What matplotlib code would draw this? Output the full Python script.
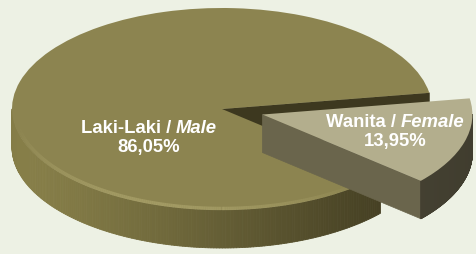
import numpy as np
import matplotlib
matplotlib.use('Agg')
import matplotlib.pyplot as plt
from matplotlib.collections import PolyCollection, LineCollection
from matplotlib.patches import Polygon
from matplotlib.offsetbox import TextArea, HPacker, VPacker, AnnotationBbox

# ---- data ----
labels_id = ['Wanita /', 'Laki-Laki /']
labels_en = ['Female', 'Male']
shares = [13.95, 86.05]
share_text = ['13,95%', '86,05%']
explode = [0.2, 0.0]
top_colors = ['#B3AE8D', '#8C8450']

# ---- style / layout ----
BG = '#EDF1E4'
W, H = 477, 254
CX, RX, CY, RY = 222, 210, 109, 101   # pixel centre & radii of the tilted pie
DEPTH = 38 / RY
START = -41

fig = plt.figure(figsize=(W / 100, H / 100), dpi=100, facecolor=BG)
ax = fig.add_axes([0, 0, 1, 1])
ax.set_facecolor(BG)

wedges, _ = ax.pie(shares, explode=explode, colors=top_colors, startangle=START,
                   counterclock=True, radius=1.0, wedgeprops=dict(linewidth=0))
ax.set_aspect('auto')
ax.set_xlim(-CX / RX, (W - CX) / RX)
ax.set_ylim((CY - H) / RY, CY / RY)
ax.axis('off')

light_m = np.array([134, 126, 72]) / 255
dark_m = np.array([60, 55, 30]) / 255
light_f = np.array([110, 104, 82]) / 255
dark_f = np.array([80, 76, 58]) / 255


def rim(w, light, dark, z):
    cx, cy = w.center
    r = w.r
    th = np.linspace(w.theta1, w.theta2, 400)
    polys, cols = [], []
    for a, b in zip(th[:-1], th[1:]):
        m = np.radians((a + b) / 2)
        if np.sin(m) >= 0:
            continue
        ra, rb = np.radians(a), np.radians(b)
        pa = (cx + r * np.cos(ra), cy + r * np.sin(ra))
        pb = (cx + r * np.cos(rb), cy + r * np.sin(rb))
        polys.append([pa, pb, (pb[0], pb[1] - DEPTH), (pa[0], pa[1] - DEPTH)])
        t = ((1 + np.cos(m - np.radians(200))) / 2) ** 1.5
        cols.append(dark + (light - dark) * t)
    pc = PolyCollection(polys, facecolors=cols, edgecolors=cols, linewidths=0.6, zorder=z)
    ax.add_collection(pc)


def cut_face(w, theta, color, z):
    cx, cy = w.center
    r = w.r
    t = np.radians(theta)
    p = (cx + r * np.cos(t), cy + r * np.sin(t))
    poly = Polygon([(cx, cy), p, (p[0], p[1] - DEPTH), (cx, cy - DEPTH)],
                   closed=True, facecolor=color, edgecolor=color, lw=0.5, zorder=z)
    ax.add_patch(poly)


def bevel(w, color, z, a0, a1):
    cx, cy = w.center
    r = w.r * 0.985
    th = np.radians(np.linspace(a0, a1, 200))
    pts = np.column_stack([cx + r * np.cos(th), cy + r * np.sin(th)])
    segs = np.stack([pts[:-1], pts[1:]], axis=1)
    mid = (th[:-1] + th[1:]) / 2
    alpha = np.clip(0.55 * np.sin(np.pi * (mid - th[0]) / (th[-1] - th[0])), 0, 1)
    base = matplotlib.colors.to_rgb(color)
    cols = [(*base, a) for a in alpha]
    ax.add_collection(LineCollection(segs, colors=cols, linewidths=2.5, zorder=z))


female, male = wedges
# male body
rim(male, light_m, dark_m, 1)
cut_face(male, male.theta1, '#3D381F', 2)
male.set_zorder(3)
bevel(male, '#B5AD74', 3.5, 190, 312)
# female body
cut_face(female, female.theta1, '#6A654C', 4)
rim(female, light_f * 0.85, dark_f * 0.8, 4)
female.set_zorder(5)

# ---- labels ----
FS = 13.3
label_pos = [((395 - CX) / RX, (CY - 132) / RY), ((149 - CX) / RX, (CY - 138) / RY)]
for i in range(2):
    tp = dict(color='white', fontweight='bold', family='Liberation Sans', size=FS)
    tpi = dict(tp, fontstyle='italic')
    row = HPacker(children=[TextArea(labels_id[i], textprops=tp),
                            TextArea(labels_en[i], textprops=tpi)],
                  align='baseline', pad=0, sep=3.5)
    box = VPacker(children=[row, TextArea(share_text[i], textprops=tp)],
                  align='center', pad=0, sep=1)
    ab = AnnotationBbox(box, label_pos[i], xycoords='data', frameon=False,
                        box_alignment=(0.5, 0.5), zorder=10)
    ax.add_artist(ab)

fig.savefig('out.png', dpi=100, facecolor=BG)
